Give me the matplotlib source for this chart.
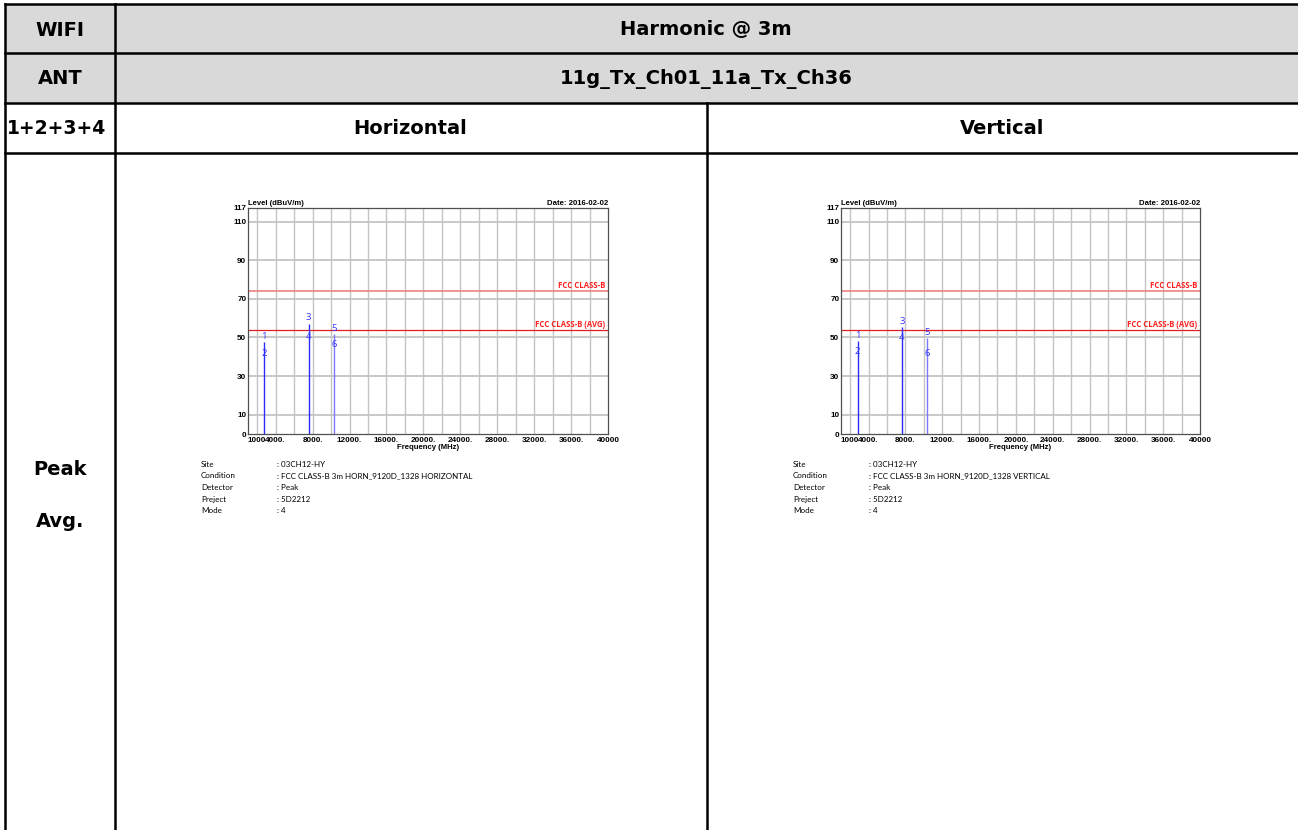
import matplotlib
matplotlib.use("Agg")
import matplotlib.pyplot as plt
from matplotlib.lines import Line2D
from matplotlib.patches import Rectangle

# ---------------- data ----------------
header_row1 = ["WIFI", "Harmonic @ 3m"]
header_row2 = ["ANT", "11g_Tx_Ch01_11a_Tx_Ch36"]
header_row3 = ["1+2+3+4", "Horizontal", "Vertical"]
row_label = ["Peak", "Avg."]

x_tick_vals = [1000, 4000, 8000, 12000, 16000, 20000, 24000, 28000, 32000, 36000, 40000]
x_tick_labels = ["1000", "4000.", "8000.", "12000.", "16000.", "20000.", "24000.",
                 "28000.", "32000.", "36000.", "40000"]
y_tick_vals = [0, 10, 30, 50, 70, 90, 110, 117]
y_grid_vals = [10, 30, 50, 70, 90, 110]
x_grid_vals = list(range(2000, 40000, 2000))

limit_peak = 74
limit_avg = 54

freq_h = [2770, 7560, 10360]
peak_h = [47.8, 57.2, 51.7]
avg_h = [38.8, 47.8, 43.4]

freq_v = [2800, 7600, 10360]
peak_v = [48.2, 55.5, 49.9]
avg_v = [39.8, 47.0, 38.9]

info_keys = ["Site", "Condition", "Detector", "Preject", "Mode"]
info_h = [": 03CH12-HY", ": FCC CLASS-B 3m HORN_9120D_1328 HORIZONTAL", ": Peak", ": 5D2212", ": 4"]
info_v = [": 03CH12-HY", ": FCC CLASS-B 3m HORN_9120D_1328 VERTICAL", ": Peak", ": 5D2212", ": 4"]

# ---------------- figure ----------------
W, H = 1298, 830
fig = plt.figure(figsize=(W / 100, H / 100), dpi=100)
fig.patch.set_facecolor("white")

bg = fig.add_axes([0, 0, 1, 1])
bg.set_xlim(0, W)
bg.set_ylim(H, 0)
bg.axis("off")

# gray header rows
bg.add_patch(Rectangle((5, 4), W, 99, facecolor="#d9d9d9", edgecolor="none", zorder=0))

lw = 1.8
for y in [4, 53, 103, 153]:
    bg.add_line(Line2D([5, W + 5], [y, y], color="black", lw=lw))
bg.add_line(Line2D([5, 5], [4, H + 5], color="black", lw=lw))
bg.add_line(Line2D([115, 115], [4, H + 5], color="black", lw=lw))
bg.add_line(Line2D([707, 707], [103, H + 5], color="black", lw=lw))

tf = dict(family="DejaVu Sans", fontweight="bold", fontsize=14,
          ha="center", va="center", color="black")
bg.text(60, 30, header_row1[0], **tf)
bg.text(706, 30, header_row1[1], **tf)
bg.text(60, 79, header_row2[0], **tf)
bg.text(706, 79, header_row2[1], **tf)
bg.text(57, 129, header_row3[0], fontsize=13.5,
        **{k: v for k, v in tf.items() if k != "fontsize"})
bg.text(410, 129, header_row3[1], **tf)
bg.text(1002, 129, header_row3[2], **tf)
bg.text(60, 469, row_label[0], **tf)
bg.text(60, 521, row_label[1], **tf)

CF = ["Liberation Sans", "DejaVu Sans"]


def draw_chart(px_left, px_right, px_top, px_bot, freqs, peaks, avgs, info_vals, info_x):
    ax = fig.add_axes([px_left / W, 1 - px_bot / H, (px_right - px_left) / W, (px_bot - px_top) / H])
    ax.set_xlim(1000, 40000)
    ax.set_ylim(0, 117)
    for g in x_grid_vals:
        ax.axvline(g, color="#c4c4c4", lw=1.0, zorder=1)
    for g in y_grid_vals:
        ax.axhline(g, color="#c4c4c4", lw=1.3, zorder=1)
    ax.axhline(limit_peak, color="#f08a8a", lw=1.3, zorder=2)
    ax.axhline(limit_avg, color="#e02020", lw=0.9, zorder=2)
    lf = dict(family=["Open Sans", "DejaVu Sans"], fontweight="bold", fontsize=5.6,
              color="#ff2020", ha="right", va="bottom")
    ax.text(39700, limit_peak + 0.6, "FCC CLASS-B", **lf)
    ax.text(39700, limit_avg + 0.6, "FCC CLASS-B (AVG)", **lf)

    colors = ["#2b2bff", "#2b2bff", "#7a7aff"]
    n = 1
    for f, p, a, c in zip(freqs, peaks, avgs, colors):
        ax.vlines(f, 0, p, color=c, lw=1.0, zorder=3)
        ax.annotate(str(n), (f, p), xytext=(0, 0.8), textcoords="offset points",
                    ha="center", va="bottom", fontsize=6.8, color="#3535ff",
                    family=["Open Sans", "DejaVu Sans"])
        ax.annotate(str(n + 1), (f, a), xytext=(0, 0.8), textcoords="offset points",
                    ha="center", va="bottom", fontsize=6.8, color="#3535ff",
                    family=["Open Sans", "DejaVu Sans"])
        n += 2

    ax.set_xticks(x_tick_vals)
    ax.set_xticklabels(x_tick_labels)
    ax.set_yticks(y_tick_vals)
    ax.set_yticklabels([str(v) for v in y_tick_vals])
    ax.tick_params(length=0, labelsize=5.9, pad=1.2)
    ax.tick_params(axis="x", pad=2.2)
    for lab in ax.get_xticklabels() + ax.get_yticklabels():
        lab.set_fontweight("bold")
        lab.set_family(CF)
    ax.get_xticklabels()[0].set_ha("left")
    for s in ax.spines.values():
        s.set_color("#505050")
        s.set_linewidth(0.9)
    ax.text(0.0, 1.005, "Level (dBuV/m)", transform=ax.transAxes, ha="left", va="bottom",
            fontsize=5.5, fontweight="bold", family=CF)
    ax.text(1.0, 1.005, "Date: 2016-02-02", transform=ax.transAxes, ha="right", va="bottom",
            fontsize=5.6, fontweight="bold", family=CF)
    ax.set_xlabel("Frequency (MHz)", fontsize=5.6, fontweight="bold", labelpad=0.3,
                  family=CF)

    for i, (k, v) in enumerate(zip(info_keys, info_vals)):
        y = 464 + i * 11.7
        bg.text(info_x, y, k, fontsize=5.75, family=["Lato", "DejaVu Sans"], va="center", ha="left")
        bg.text(info_x + 76, y, v, fontsize=5.75, family=["Lato", "DejaVu Sans"], va="center", ha="left")


draw_chart(248, 608, 208, 434, freq_h, peak_h, avg_h, info_h, 201)
draw_chart(841, 1200, 208, 434, freq_v, peak_v, avg_v, info_v, 793)

fig.savefig("out.png", dpi=100, facecolor="white")
